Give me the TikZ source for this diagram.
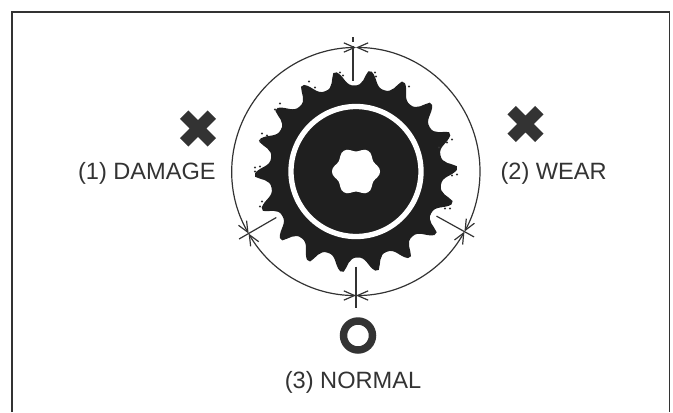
\documentclass[tikz,border=0pt]{standalone}
\usepackage{fontspec}
\setmainfont{Liberation Sans}
\usetikzlibrary{arrows.meta}
\definecolor{inkgray}{gray}{0.2}
\tikzset{
    gauge/.style={line width=0.9pt, draw=inkgray},
    rim/.style={line width=0.9pt, draw=inkgray, {Straight Barb[length=8pt,width=7pt]}-{Straight Barb[length=8pt,width=7pt]}},
    cross/.style={draw=inkgray, line width=9pt},
    caption/.style={text=inkgray, font=\fontsize{17.7}{20}\selectfont, inner sep=0pt}
}
\begin{document}
\begin{tikzpicture}[x=0.75pt,y=0.75pt]
    \useasboundingbox (-356,-240.5) rectangle (317,171.5);
    % frame
    \draw[line width=1.1pt, draw=inkgray] (-344,-240.5) -- (-344,159.5) -- (313.5,159.5) -- (313.5,-240.5);

    % sprocket outline
    \fill[black!88] (101:101)
        \foreach \a in {81,61,...,-259} {
            .. controls (\a+16:96) and (\a+16:86) .. (\a+10:86)
            .. controls (\a+4:86) and (\a+4:96) .. (\a+2:101) -- (\a:101)
        } -- cycle;
    \draw[white, line width=4pt] (0,0) circle (65);

    % bore
    \fill[white] (0:24)
        \foreach \a in {60,120,...,360} {
            .. controls (\a-50:25) and (\a-38:20) .. (\a-30:20)
            .. controls (\a-22:20) and (\a-10:25) .. (\a:24)
        } -- cycle;

    % specks on the teeth
    \foreach \x/\y in {-16/99,-13/96,19/99,20/95,53/85,-47/90,-41/84,-76/68,-81/62,-94/38,-96/31,-89/36,-101/4,-96/5,-101/0,-94/-30,-96/-35,96/32,91/29,83/24,101/-3,96/-4,89/-37,94/-37} {
        \fill[black!80] (\x,\y) circle (1.1);
    }

    % gauge circle
    \draw[rim] (90:124) arc (90:-29:124);
    \draw[rim] (-29:124) arc (-29:-90:124);
    \draw[rim] (-90:124) arc (-90:-150:124);
    \draw[rim] (-150:124) arc (-150:-270:124);

    % gauge lines
    \draw[gauge] (-3,91) -- (-3,126);
    \draw[gauge] (-3,130) -- (-3,135);
    \draw[gauge] (0,-95) -- (0,-136);
    \draw[gauge] (-150:92) -- (-150:135);
    \draw[gauge] (-29:92) -- (-29:135);

    % marks
    \draw[cross] (-171.8,56.8) -- (-144.2,29.2) (-171.8,29.2) -- (-144.2,56.8);
    \draw[cross] (155.7,61.3) -- (183.3,33.7) (155.7,33.7) -- (183.3,61.3);
    \draw[inkgray, line width=5.6pt] (2,-164) circle (14.5);

    \node[caption, anchor=east] (damage) at (-140,-2) {(1) DAMAGE};
    \node[caption, anchor=east] (wear) at (251,-2) {(2) WEAR};
    \node[caption, anchor=east] (normal) at (65.5,-211) {(3) NORMAL};
\end{tikzpicture}
\end{document}
